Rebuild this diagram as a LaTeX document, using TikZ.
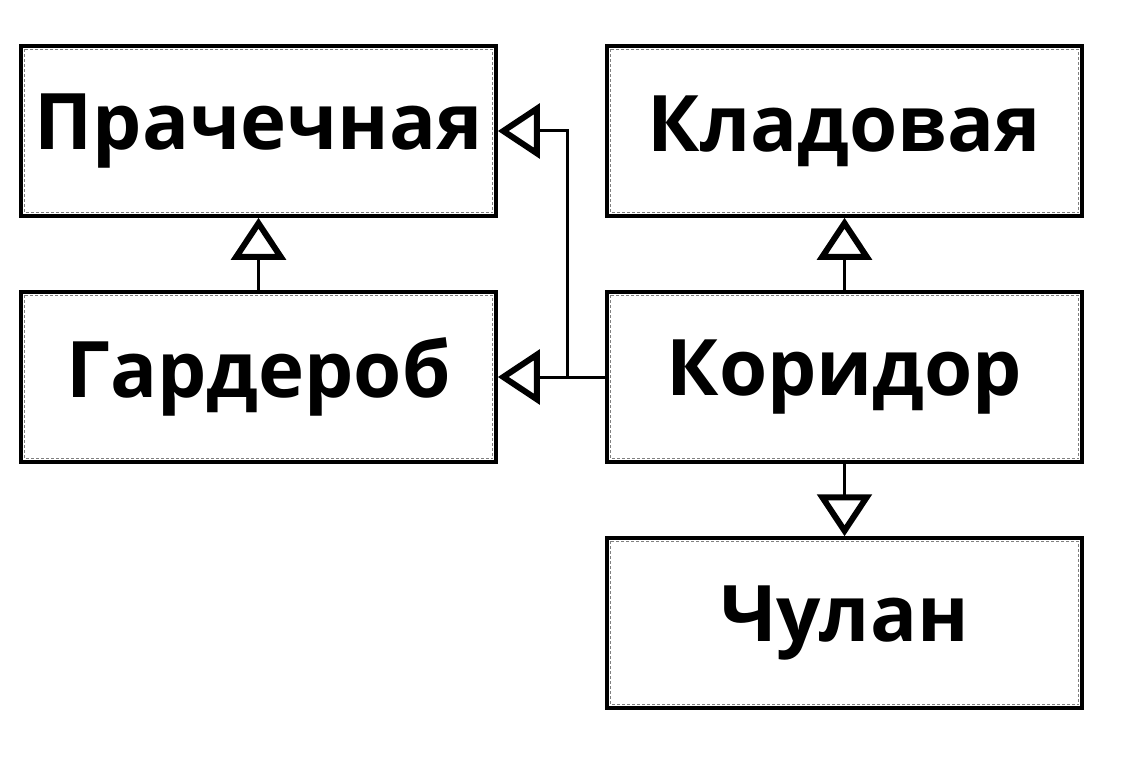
\documentclass[tikz,border=0pt]{standalone}
\usepackage{fontspec}
\setmainfont{Open Sans}
\usetikzlibrary{arrows.meta}

\tikzset{
  room/.style={draw, line width=3.5pt, minimum width=475pt, minimum height=170pt,
    inner sep=0pt, font=\fontsize{78}{94}\selectfont\bfseries},
  roomin/.style={draw=gray, line width=1pt, dash pattern=on 3pt off 2pt},
  link/.style={line width=3pt, -{Triangle[open, length=42pt, width=54pt, line width=6pt]}}
}

\begin{document}
\begin{tikzpicture}[x=1pt, y=-1pt]
\useasboundingbox (0,0) rectangle (1139,767);
\node [room] (laundry) at (258.5,131) {Прачечная};
\node [room] (pantry) at (844.5,131) {Кладовая};
\node [room] (wardrobe) at (258.5,377) {Гардероб};
\node [room] (corridor) at (844.5,377) {Коридор};
\node [room] (closet) at (844.5,623) {Чулан};
\foreach \n in {laundry,pantry,wardrobe,corridor,closet}
	\draw [roomin] ([shift={(5,5)}]\n.north west) rectangle ([shift={(-5,-5)}]\n.south east);
\draw [link] (wardrobe.north) -- (laundry.south);
\draw [link] (corridor.north) -- (pantry.south);
\draw [link] (corridor.south) -- (closet.north);
\draw [link] (corridor.west) -- (wardrobe.east);
\draw [link] (corridor.west) -- ++(-38,0) |- (laundry.east);
\end{tikzpicture}
\end{document}
